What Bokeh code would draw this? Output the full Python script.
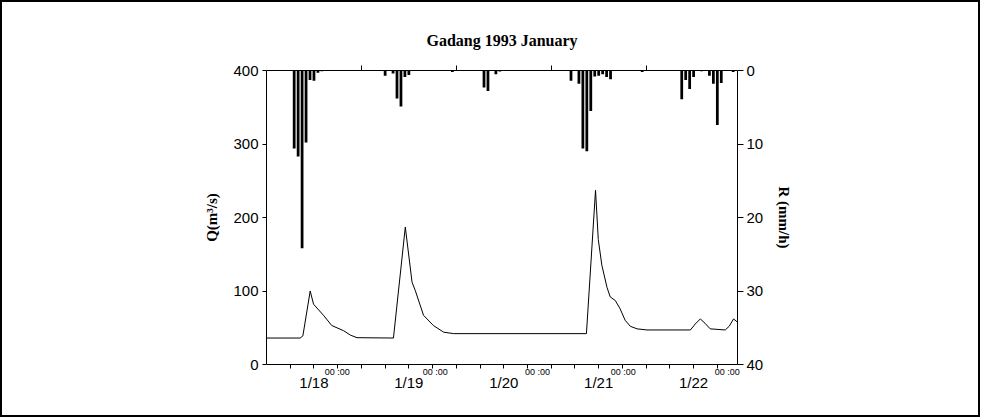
from bokeh.plotting import figure
from bokeh.models import Range1d, LinearAxis, FixedTicker, CustomJSTickFormatter, ColumnDataSource
from bokeh.embed import file_html
from bokeh.resources import INLINE

# ---- data (hours relative to 1993-01-18 00:00) ----
q_hours = [-12.0, -3.5, -2.8, -0.95, -0.1, 2.4, 4.5, 7.5, 9.2, 10.9, 20.1,
           23.1, 24.8, 25.6, 27.7, 30.2, 32.8, 35.3, 68.9,
           71.2, 71.9, 72.8, 74.1, 74.9, 76.2, 77.4, 78.7, 80.0, 81.7, 84.2,
           95.2, 96.4, 97.7, 98.9, 100.2, 104.0, 105.0, 106.1, 107.0]
q_values = [36, 36, 39, 100, 82, 67, 53, 46, 40, 36.5, 36,
            187, 112, 101, 67, 53, 44, 42, 42,
            237, 170, 135, 105, 92, 87, 76, 60, 52, 48.5, 47,
            47, 55, 62, 56, 48.5, 47, 52, 62, 58]

rain_hours = [-5, -4, -3, -2, -1, 0, 1, 2,
              18, 20, 21, 22, 23, 24,
              35, 43, 44, 46, 47,
              65, 67, 68, 69, 70, 71, 72, 73, 74, 75, 83,
              93, 94, 95, 96, 98, 100, 101, 102, 103, 106]
rain_values = [10.6, 11.7, 24.2, 9.8, 1.3, 1.4, 0.3, 0.1,
               0.7, 0.4, 3.8, 4.9, 0.9, 0.6,
               0.2, 2.3, 2.8, 0.5, 0.15,
               1.4, 1.8, 10.6, 11.0, 5.5, 0.8, 0.7, 0.5, 0.9, 1.2, 0.2,
               3.9, 1.3, 2.5, 0.9, 0.1, 0.7, 1.8, 7.4, 1.7, 0.2]

day_ticks = [0, 24, 48, 72, 96]
day_labels = ["1/18", "1/19", "1/20", "1/21", "1/22"]
midnight_label_hours = [5.9, 30.7, 56.5, 78.2, 104.5]
six_hour_ticks = list(range(-6, 107, 6))
noon_ticks = [12, 36, 60, 84]
q_ticks = [0, 100, 200, 300, 400]
r_ticks = [0, 10, 20, 30, 40]

title_text = "Gadang 1993 January"
q_label = "Q(m\u00b3/s)"
r_label = "R (mm/h)"

SANS = "Liberation Sans"
SERIF = "Liberation Serif"

p = figure(frame_width=471, frame_height=294,
           min_border_left=264, min_border_right=241,
           min_border_top=68, min_border_bottom=51,
           x_range=Range1d(-12, 107.1), y_range=Range1d(0, 400),
           output_backend="svg", toolbar_location=None)
p.extra_y_ranges = {"rain": Range1d(40, 0)}
p.styles = {"border": "2px solid black"}

p.xgrid.visible = False
p.ygrid.visible = False
p.outline_line_color = None
p.background_fill_color = "white"
p.border_fill_color = "white"

# title
p.title.text = title_text
p.title.align = "center"
p.title.text_font = SERIF
p.title.text_font_style = "bold"
p.title.text_font_size = "16px"
p.title.text_color = "black"
p.title.standoff = 33

# bottom axis: 6-hour ticks + "00 :00" labels
xa = p.xaxis[0]
xa.ticker = FixedTicker(ticks=midnight_label_hours, minor_ticks=six_hour_ticks)
xa.formatter = CustomJSTickFormatter(code="return '00 :00'")
xa.major_tick_out = 0
xa.major_tick_in = 0
xa.minor_tick_out = 4
xa.minor_tick_in = 0
xa.axis_line_color = "black"
xa.minor_tick_line_color = "black"
xa.major_label_text_font = SANS
xa.major_label_text_font_size = "9px"
xa.major_label_text_color = "black"
xa.major_label_standoff = -2

# day labels axis
da = LinearAxis(ticker=FixedTicker(ticks=day_ticks, minor_ticks=[]),
                formatter=CustomJSTickFormatter(args=dict(labels=day_labels),
                                                code="return labels[index]"))
da.axis_line_color = None
da.major_tick_line_color = None
da.minor_tick_line_color = None
da.major_label_text_font = SANS
da.major_label_text_font_size = "15px"
da.major_label_text_color = "black"
da.major_label_standoff = -12
p.add_layout(da, "below")

# top axis (R = 0 line) with noon ticks
ta = LinearAxis(ticker=FixedTicker(ticks=noon_ticks, minor_ticks=[]),
                formatter=CustomJSTickFormatter(code="return ''"))
ta.major_tick_out = 5
ta.major_tick_in = 0
ta.minor_tick_line_color = None
ta.axis_line_color = "black"
ta.major_label_text_font_size = "1px"
ta.major_label_standoff = 0
p.add_layout(ta, "above")

# left axis
ya = p.yaxis[0]
ya.ticker = FixedTicker(ticks=q_ticks, minor_ticks=[])
ya.major_tick_out = 4
ya.major_tick_in = 0
ya.axis_line_color = "black"
ya.major_label_text_font = SANS
ya.major_label_text_font_size = "15px"
ya.major_label_text_color = "black"
ya.major_label_standoff = 4
ya.axis_label = q_label
ya.axis_label_text_font = SERIF
ya.axis_label_text_font_style = "bold"
ya.axis_label_text_font_size = "15px"
ya.axis_label_text_color = "black"
ya.axis_label_standoff = 10

# right axis
ra = LinearAxis(y_range_name="rain", ticker=FixedTicker(ticks=r_ticks, minor_ticks=[]))
ra.major_tick_out = 6
ra.major_tick_in = 0
ra.axis_line_color = "black"
ra.major_label_text_font = SANS
ra.major_label_text_font_size = "15px"
ra.major_label_text_color = "black"
ra.major_label_standoff = 3
ra.axis_label = r_label
ra.axis_label_text_font = SERIF
ra.axis_label_text_font_style = "bold"
ra.axis_label_text_font_size = "15px"
ra.axis_label_text_color = "black"
ra.axis_label_standoff = 10
p.add_layout(ra, "right")

# rainfall bars hanging from top
rain_src = ColumnDataSource(dict(h=rain_hours, r=rain_values))
p.vbar(x="h", top=0, bottom="r", width=0.7, source=rain_src,
       y_range_name="rain", fill_color="black", line_color=None)

# discharge hydrograph
q_src = ColumnDataSource(dict(h=q_hours, q=q_values))
p.line(x="h", y="q", source=q_src, line_color="black", line_width=1)

open("out.html", "w").write(file_html(p, INLINE))
